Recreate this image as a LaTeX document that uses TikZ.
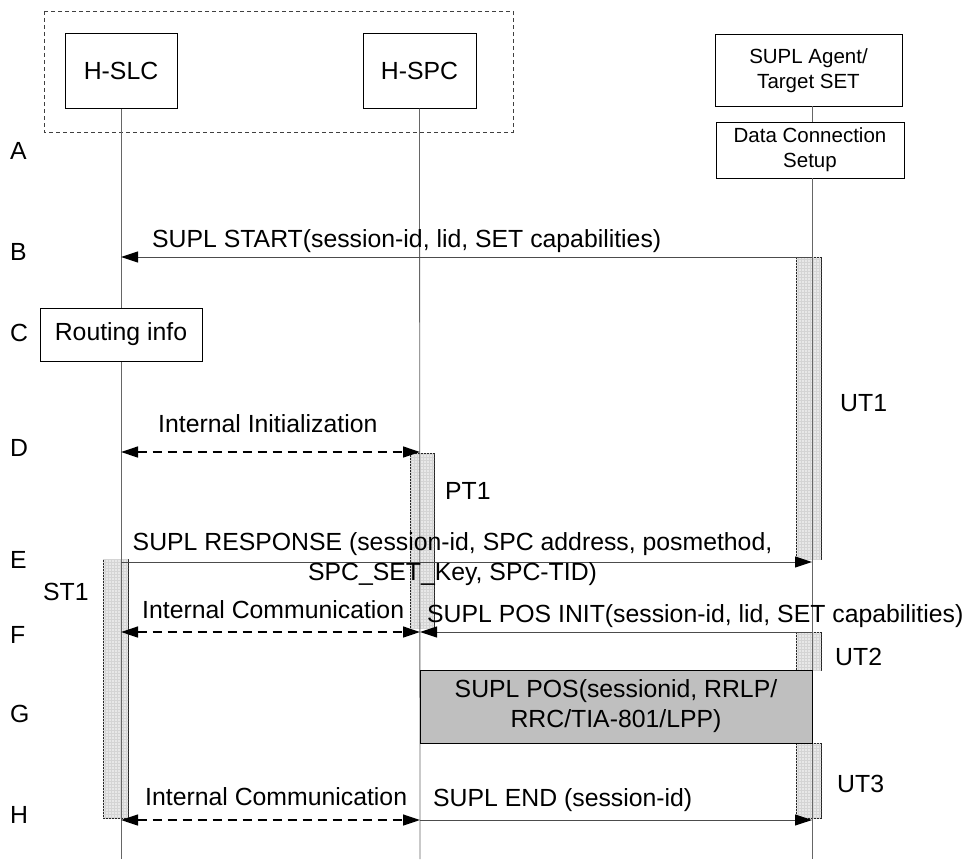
\documentclass[tikz,border=0pt]{standalone}
\usepackage{fontspec}
\setmainfont{Liberation Sans}
\usetikzlibrary{arrows.meta,patterns,positioning,calc}

\tikzset{
  entity/.style={draw, line width=1pt, fill=white, align=center, inner sep=0pt},
  lifeline/.style={draw=black!60, line width=0.8pt},
  actbar/.style={draw=black!85, line width=0.8pt, fill=black!9,
    postaction={pattern=grid, pattern color=black!17}},
  msg/.style={draw=black!70, line width=1pt,
    -{Triangle[length=17pt,width=11pt,black]}},
  intmsg/.style={draw=black, line width=1.3pt, dash pattern=on 9pt off 6pt,
    {Triangle[length=17pt,width=11pt]}-{Triangle[length=17pt,width=11pt]}},
  steplbl/.style={anchor=base west, inner sep=0pt},
  msglbl/.style={anchor=base west, inner sep=0pt}
}

\begin{document}
\begin{tikzpicture}[x=1pt,y=-1pt,font=\fontsize{24.8}{30}\selectfont]
  \useasboundingbox (0,0) rectangle (965,859);

  % Home network frame
  \draw[black!75, line width=0.8pt, dash pattern=on 4pt off 3pt] (44,11) rectangle (513,132);

  % Entities
  \node[entity, minimum width=112pt, minimum height=74pt] (slc) at (121,71) {H-SLC};
  \node[entity, minimum width=113pt, minimum height=74pt] (spc) at (419.5,71) {H-SPC};
  \node[entity, minimum width=187pt, minimum height=71pt,
    font=\fontsize{20.5}{25}\selectfont] (set) at (808.5,70.5) {SUPL Agent/\\Target SET};
  \node[entity, minimum width=188pt, minimum height=56pt,
    font=\fontsize{20.5}{25}\selectfont] (dcs) at (810,150) {Data Connection\\Setup};

  % Lifeline ends
  \coordinate (slcEnd) at (121,859);
  \coordinate (spcEnd) at (420,859);
  \coordinate (setEnd) at (812,859);

  % Message rows on the lifelines
  \foreach \r/\y in {B/257,D/452,E/562,F/632,H/820}{
    \coordinate (slc\r) at (121,\y);
    \coordinate (spc\r) at (420,\y);
    \coordinate (set\r) at (812,\y);
  }

  % Activation bars (timers)
  \draw[actbar] (796,257) rectangle (821,559);
  \draw[actbar] (410,453) rectangle (434,628);
  \draw[actbar] (103,559) rectangle (128,818);
  \draw[actbar] (796,632) rectangle (821,670);
  \draw[actbar] (796,743) rectangle (821,818);

  % Lifelines
  \draw[lifeline] (slc.south) -- (slcEnd);
  \draw[lifeline] (spc.south) -- (spcEnd);
  \draw[lifeline] (812,106) -- (812,122);
  \draw[lifeline] (812,178) -- (setEnd);

  % Routing info and SUPL POS
  \node[entity, minimum width=162pt, minimum height=53pt] (route) at (121,334.5) {Routing info};
  \node[entity, fill=black!25, minimum width=392pt, minimum height=73pt] (pos) at (616,706.5)
    {SUPL POS(sessionid, RRLP/\\RRC/TIA-801/LPP)};

  % Messages
  \draw[msg] (setB) -- (slcB);
  \draw[intmsg] (slcD) -- (spcD);
  \draw[msg] (slcE) -- (setE);
  \draw[intmsg] (slcF) -- (spcF);
  \draw[msg] (setF) -- (spcF);
  \draw[intmsg] (slcH) -- (spcH);
  \draw[msg] (spcH) -- (setH);

  % Message labels
  \node[msglbl] (startlbl) at (152,247) {SUPL START(session-id, lid, SET capabilities)};
  \node[msglbl] (initlbl) at (158,432) {Internal Initialization};
  \node[align=center, inner sep=0pt] (resplbl) at (452.5,559.5)
    {SUPL RESPONSE (session-id, SPC address, posmethod,\\SPC\_SET\_Key, SPC-TID)};
  \node[msglbl] (comm1lbl) at (142,618) {Internal Communication};
  \node[msglbl] (posinitlbl) at (427,622) {SUPL POS INIT(session-id, lid, SET capabilities)};
  \node[msglbl] (comm2lbl) at (145,805) {Internal Communication};
  \node[msglbl] (endlbl) at (433,806) {SUPL END (session-id)};

  % Timer labels
  \node[msglbl] (ut1lbl) at (840,411) {UT1};
  \node[msglbl] (pt1lbl) at (445,499) {PT1};
  \node[msglbl] (st1lbl) at (43,600) {ST1};
  \node[msglbl] (ut2lbl) at (835,665) {UT2};
  \node[msglbl] (ut3lbl) at (837,792) {UT3};

  % Step letters
  \foreach \s/\y in {A/159,B/260,C/341,D/456,E/568,F/643,G/722,H/823}
    \node[steplbl] (step\s) at (10,\y) {\s};
\end{tikzpicture}
\end{document}
